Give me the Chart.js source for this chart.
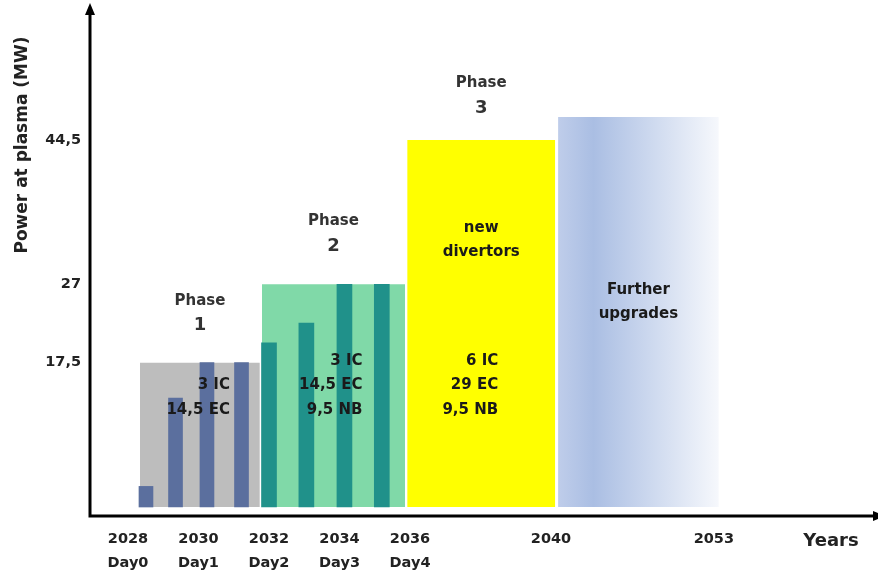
<!DOCTYPE html>
<html>
<head>
<meta charset="utf-8">
<script src="https://cdn.jsdelivr.net/npm/chart.js@4"></script>
<style>
  html, body { margin: 0; padding: 0; background: #fff; }
  #wrap { width: 878px; height: 579px; }
</style>
</head>
<body>
<div id="wrap"><canvas id="c"></canvas></div>
<script>
// time axis is not to scale in the original slide: one slot = one tick gap
const tickYears = ['2028', '2030', '2032', '2034', '2036', '2040', '2053'];
const tickDays  = ['Day0', 'Day1', 'Day2', 'Day3', 'Day4', '', ''];
const tickSlots = [0, 1, 2, 3, 4, 6, 8.31];

const yTicks = [17.5, 27, 44.5];

const phaseNames = ['1', '2', '3', ''];
const phaseStart = [0.17, 1.9, 3.96, 6.1];
const phaseEnd   = [1.87, 3.93, 6.06, 8.38];
const phasePower = [17.5, 27, 44.5, 47.3];
const phaseMix   = [['3 IC', '14,5 EC'], ['3 IC', '14,5 EC', '9,5 NB'], ['6 IC', '29 EC', '9,5 NB'], []];
const phaseNote  = [[], [], ['new', 'divertors'], ['Further', 'upgrades']];

const step1Slots = [0.255, 0.674, 1.12, 1.61];
const step1Power = [2.5, 13.2, 17.5, 17.5];
const step2Slots = [2.0, 2.53, 3.07, 3.6];
const step2Power = [19.9, 22.3, 27, 27];

const phaseColors = ['#bdbdbd', '#80d9a8', '#ffff00', null];
const FONT = '"DejaVu Sans", sans-serif';

function upgradeFill(ctx) {
  const ch = ctx.chart, xs = ch.scales.x;
  if (!ch.chartArea || !xs) return '#c8d4ec';
  const x0 = xs.getPixelForValue(phaseStart[3]), x1 = xs.getPixelForValue(phaseEnd[3]);
  const g = ch.ctx.createLinearGradient(x0, 0, x1, 0);
  g.addColorStop(0, '#bfcdea');
  g.addColorStop(0.22, '#aabee3');
  g.addColorStop(1, '#f6f8fc');
  return g;
}

const boxes = phaseStart.map((s, i) => ({
  type: 'line',
  data: [{ x: s, y: 0 }, { x: s, y: phasePower[i] }, { x: phaseEnd[i], y: phasePower[i] }, { x: phaseEnd[i], y: 0 }],
  fill: 'origin',
  backgroundColor: i === 3 ? upgradeFill : phaseColors[i],
  borderColor: 'rgba(0,0,0,0)', borderWidth: 0, pointRadius: 0, tension: 0, order: 2
}));

const steps = [
  { type: 'bar', data: step1Slots.map((x, i) => ({ x, y: step1Power[i] })), backgroundColor: '#5b6f9e', barThickness: 14, grouped: false, order: 1 },
  { type: 'bar', data: step2Slots.map((x, i) => ({ x, y: step2Power[i] })), backgroundColor: '#20918a', barThickness: 15, grouped: false, order: 1 }
];

// text layout (pixels relative to each box)
const textLayout = {
  phaseDy: [-62, -63, -57, 0],
  mixRightDx: [30, 29, 17, 0],
  mixBottomY: 410,
  lineGap: 24.5,
  noteY: [0, 0, 228, 290]
};

const decor = {
  id: 'decor',
  afterDatasetsDraw(chart) {
    const { ctx, chartArea: a, scales: { x, y } } = chart;
    ctx.save();
    ctx.strokeStyle = '#000'; ctx.fillStyle = '#000'; ctx.lineWidth = 3;
    ctx.beginPath();
    ctx.moveTo(a.left, a.bottom); ctx.lineTo(a.left, a.top + 10);
    ctx.moveTo(a.left - 1.5, a.bottom); ctx.lineTo(a.right, a.bottom);
    ctx.stroke();
    ctx.beginPath(); ctx.moveTo(a.left, a.top); ctx.lineTo(a.left - 5, a.top + 12); ctx.lineTo(a.left + 5, a.top + 12); ctx.fill();
    ctx.beginPath(); ctx.moveTo(a.right + 7, a.bottom); ctx.lineTo(a.right - 5, a.bottom - 5); ctx.lineTo(a.right - 5, a.bottom + 5); ctx.fill();

    ctx.textBaseline = 'middle';
    phaseStart.forEach((s, i) => {
      const cx = (x.getPixelForValue(s) + x.getPixelForValue(phaseEnd[i])) / 2;
      const top = y.getPixelForValue(phasePower[i]);
      if (phaseNames[i]) {
        ctx.fillStyle = '#333'; ctx.textAlign = 'center';
        ctx.font = 'bold 15px ' + FONT;
        ctx.fillText('Phase', cx, top + textLayout.phaseDy[i]);
        ctx.font = 'bold 18px ' + FONT;
        ctx.fillText(phaseNames[i], cx, top + textLayout.phaseDy[i] + 25);
      }
      ctx.fillStyle = '#1a1a1a'; ctx.font = 'bold 15px ' + FONT;
      ctx.textAlign = 'right';
      const mix = phaseMix[i];
      mix.forEach((t, k) => {
        ctx.fillText(t, cx + textLayout.mixRightDx[i], textLayout.mixBottomY - (mix.length - 1 - k) * textLayout.lineGap);
      });
      ctx.textAlign = 'center';
      phaseNote[i].forEach((t, k) => ctx.fillText(t, cx, textLayout.noteY[i] + k * textLayout.lineGap));
    });

    ctx.fillStyle = '#222'; ctx.font = 'bold 18px ' + FONT; ctx.textAlign = 'center';
    ctx.fillText('Years', 831, 541);
    ctx.translate(23, 145); ctx.rotate(-Math.PI / 2);
    ctx.font = 'bold 17px ' + FONT;
    ctx.fillText('Power at plasma (MW)', 0, 0);
    ctx.restore();
  }
};

const tickFont = { family: FONT, weight: 'bold', size: 14.5, lineHeight: 1.6 };

new Chart(document.getElementById('c'), {
  type: 'bar',
  data: { datasets: [...steps, ...boxes] },
  options: {
    responsive: true, maintainAspectRatio: false, animation: false,
    layout: { padding: { top: 3, left: 0, right: 0, bottom: 0 } },
    plugins: { legend: { display: false }, tooltip: { enabled: false } },
    scales: {
      x: {
        type: 'linear', min: -0.539, max: 10.638, offset: false,
        grid: { display: false, drawTicks: false }, border: { display: false },
        afterBuildTicks: s => { s.ticks = tickSlots.map(v => ({ value: v })); },
        afterFit: s => { s.height = 63; s.paddingLeft = 0; s.paddingRight = 0; },
        ticks: { autoSkip: false, maxRotation: 0, padding: 12, color: '#222', font: tickFont,
          callback: (v, i) => tickDays[i] ? [tickYears[i], tickDays[i]] : tickYears[i] }
      },
      y: {
        min: -1.09, max: 61.11,
        grid: { display: false, drawTicks: false }, border: { display: false },
        afterBuildTicks: s => { s.ticks = yTicks.map(v => ({ value: v })); },
        afterFit: s => { s.width = 90; s.paddingTop = 0; s.paddingBottom = 0; },
        ticks: { padding: 9, color: '#222', font: { family: FONT, weight: 'bold', size: 14.5 },
          callback: v => String(v).replace('.', ',') }
      }
    }
  },
  plugins: [decor]
});
</script>
</body>
</html>
